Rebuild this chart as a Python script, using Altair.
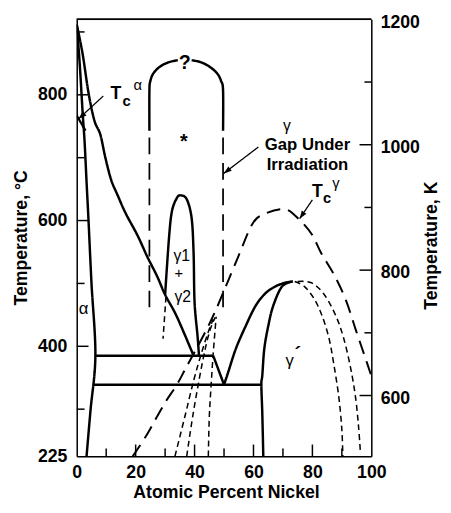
import math
import altair as alt
import pandas as pd

# ---------------- data: X = atomic % Ni, T = temperature (deg C) ----------------
alpha_x = [0, 1.0, 2.0, 2.67, 3.33, 4.0, 5.0, 6.33, 4.67, 3.33]
alpha_t = [912, 850, 772, 725, 662, 600, 501, 386, 298, 225]

gamma_x = [0, 2, 4, 6, 8, 9.67, 11.67, 14, 16.67, 20.67, 24, 27.33, 30, 34, 39.67]
gamma_t = [912, 865, 803, 759, 737, 701, 665, 639, 611, 576, 542, 511, 482, 447, 385]

tca_x = [0, 3]
tca_t = [767, 743]

dome_x = [30, 31.33, 32.33, 34, 35.33, 37.33, 39, 39.67, 40, 41, 41.5]
dome_t = [482, 573, 615, 636, 640, 634, 604, 548, 470, 417, 385]

dome_dash_x = [30.3, 29.3]
dome_dash_t = [479, 412]

upper_h_x = [6.33, 46.33]
upper_h_t = [385, 385]

v_arm_x = [46.33, 50]
v_arm_t = [385, 339]

lower_h_x = [5.6, 62.7]
lower_h_t = [339, 339]

gp_outer_x = [50, 51.33, 54, 57.33, 60.67, 64, 67.33, 70.67, 73.33]
gp_outer_t = [339, 357.5, 396, 432, 464, 484, 495, 501, 503]

gp_inner_x = [73.33, 69.67, 66.67, 65, 63.67, 63, 62.67, 63, 63.33]
gp_inner_t = [503, 495, 464, 432, 396, 354, 339, 292, 225]

gp_dash1_x = [74, 77.33, 80.67, 83.33, 85.67, 87.33, 89, 90, 90.33]
gp_dash1_t = [503, 495, 475, 448, 412, 370, 318, 267, 225]

gp_dash2_x = [75, 79.67, 84, 88, 90.67, 93, 94.67, 95.67, 96.33]
gp_dash2_t = [503, 501, 482.5, 448, 412, 365, 318, 272, 229]

tcg_x = [19, 24, 29.67, 34, 37.33, 43.33, 47.33, 54.33, 59.67, 64, 70.67, 75, 79.67, 83,
         87.33, 91.33, 94.67, 98, 100]
tcg_t = [225, 261, 308, 339, 368, 420, 459, 537, 595, 611, 618, 604, 579, 548,
         514, 474, 427, 381, 353]

gap_left_x = [24.67, 24.67, 25, 26, 28.33, 31.33, 34.33]
gap_left_t = [743, 807, 822, 834, 845, 852, 855]
gap_right_x = [39, 42, 45, 47.67, 49, 49.67, 49.67]
gap_right_t = [855, 852, 845, 834, 822, 807, 743]
gap_ldash_x = [24.67, 24.67]
gap_ldash_t = [732, 462]
gap_rdash_x = [49.67, 49.67]
gap_rdash_t = [732, 462]

low_a_x = [33.33, 36.67, 39.67, 42.33, 44.67, 46.33]
low_a_t = [225, 287.5, 345, 389, 423, 443]
low_b_x = [37.33, 39.33, 41.67, 43.67, 45.33, 47]
low_b_t = [225, 287.5, 350, 397, 427, 446]
low_c_x = [44.67, 45, 45.67, 46.33, 47, 47.33]
low_c_t = [225, 287.5, 342, 389, 428, 447]

# arrows: (tail x, tail T, tip x, tip T)
arrows = [
    (9.0, 798, 0.67, 762),
    (61.67, 717, 49.9, 675),
    (80.0, 633, 75.67, 603),
]

# labels
bold_labels = [
    ("T", 13.33, 801, 18), ("c", 16.9, 790, 15),
    ("?", 36.67, 850, 20),
    ("*", 36.33, 725, 20),
    ("Gap Under", 78.33, 720, 17), ("Irradiation", 78.33, 689, 17),
    ("T", 81.67, 645, 18), ("c", 85.0, 636, 15),
    ("´", 75.0, 386, 20),
]
plain_labels = [
    ("α", 20.67, 815, 15), ("γ", 88.0, 659, 15),
    ("γ", 71.33, 751, 16),
    ("γ1", 35.67, 543, 16), ("+", 34.67, 516, 15), ("γ2", 36.0, 479, 16),
    ("α", 2.33, 459, 17),
    ("γ", 72.3, 376, 17),
]

x_major = [20, 40, 60, 80]
x_minor = [10, 30, 50, 70, 90]
t_major = [400, 600, 800]
t_minor = [300, 500, 700, 900]
k_major = [600, 800, 1000]
k_minor = [700, 900, 1100]

# ---------------- build ----------------
W, H = 300, 445
X_DOM = [0, 100]
T_DOM = [225, 920]
K_DOM = [503, 1200]
FONT = "Liberation Sans"

segments = [
    ("alpha", "solid", alpha_x, alpha_t), ("gamma", "solid", gamma_x, gamma_t),
    ("tca", "thin", tca_x, tca_t), ("dome", "solid", dome_x, dome_t),
    ("domedash", "short", dome_dash_x, dome_dash_t),
    ("uh", "solid", upper_h_x, upper_h_t), ("varm", "solid", v_arm_x, v_arm_t),
    ("lh", "solid", lower_h_x, lower_h_t),
    ("gpo", "solid", gp_outer_x, gp_outer_t), ("gpi", "solid", gp_inner_x, gp_inner_t),
    ("gpd1", "short", gp_dash1_x, gp_dash1_t), ("gpd2", "short", gp_dash2_x, gp_dash2_t),
    ("tcg", "tc", tcg_x, tcg_t),
    ("gapl", "solid", gap_left_x, gap_left_t), ("gapr", "solid", gap_right_x, gap_right_t),
    ("gapld", "gap", gap_ldash_x, gap_ldash_t), ("gaprd", "gap", gap_rdash_x, gap_rdash_t),
    ("la", "short", low_a_x, low_a_t), ("lb", "short", low_b_x, low_b_t),
    ("lc", "short", low_c_x, low_c_t),
]
for k, (x0, t0, x1, t1) in enumerate(arrows):
    segments.append((f"arrow{k}", "arrow", [x0, x1], [t0, t1]))

rows = []
for name, style, xs_, ts_ in segments:
    for i, (x, t) in enumerate(zip(xs_, ts_)):
        rows.append(dict(seg=name, style=style, i=i, x=x, t=t))
df = pd.DataFrame(rows)

styles = ["solid", "thin", "tc", "gap", "short", "arrow"]
dash_range = [[1, 0], [1, 0], [14, 8], [17, 9], [6, 4], [1, 0]]
width_range = [2.5, 1.3, 3.2, 2.5, 2.2, 1.6]

xscale = alt.Scale(domain=X_DOM, nice=False, zero=False)
tscale = alt.Scale(domain=T_DOM, nice=False, zero=False)
kscale = alt.Scale(domain=K_DOM, nice=False, zero=False)

x_axis = alt.Axis(values=[0, 20, 40, 60, 80, 100], ticks=False, tickSize=0, grid=False,
                  labelFont=FONT, labelFontWeight="bold", labelFontSize=18, labelPadding=8,
                  labelFlush=False, labelColor="black", format="d",
                  title="Atomic Percent Nickel", titleFont=FONT, titleFontWeight="bold",
                  titleFontSize=18, titleColor="black", titleX=152, titleY=37,
                  titleAlign="center", titleBaseline="middle",
                  domainColor="black", domainWidth=1.5)
t_axis = alt.Axis(values=[225, 400, 600, 800], ticks=False, tickSize=0, grid=False,
                  labelFont=FONT, labelFontWeight="bold", labelFontSize=18, labelPadding=10,
                  labelFlush=False, labelColor="black", format="d",
                  title="Temperature, °C", titleFont=FONT, titleFontWeight="bold",
                  titleFontSize=18, titleColor="black", titleX=-56, titleY=222,
                  titleAngle=270, titleAlign="center", titleBaseline="middle",
                  domainColor="black", domainWidth=1.5)
k_axis = alt.Axis(orient="right", values=[600, 800, 1000, 1200], ticks=False, tickSize=0,
                  grid=False, labelFont=FONT, labelFontWeight="bold", labelFontSize=18,
                  labelPadding=9, labelFlush=False, labelOffset=3, labelColor="black",
                  format="d",
                  title="Temperature, K", titleFont=FONT, titleFontWeight="bold",
                  titleFontSize=18, titleColor="black", titleX=61, titleY=230,
                  titleAngle=270, titleAlign="center", titleBaseline="middle",
                  domainColor="black", domainWidth=1.5)


def X(field="x"):
    return alt.X(f"{field}:Q", scale=xscale, axis=x_axis)


def Y(field="t"):
    return alt.Y(f"{field}:Q", scale=tscale, axis=t_axis)


def K(field="k"):
    return alt.Y(f"{field}:Q", scale=kscale, axis=k_axis)


lines = alt.Chart(df).mark_line(interpolate="cardinal", color="black", clip=True).encode(
    x=X(),
    y=Y(),
    detail="seg:N",
    order="i:Q",
    strokeDash=alt.StrokeDash("style:N", scale=alt.Scale(domain=styles, range=dash_range),
                              legend=None),
    strokeWidth=alt.StrokeWidth("style:N", scale=alt.Scale(domain=styles, range=width_range),
                                legend=None),
)

# arrow heads
heads = []
for x0, t0, x1, t1 in arrows:
    dx = (x1 - x0) * W / (X_DOM[1] - X_DOM[0])
    dy = -(t1 - t0) * H / (T_DOM[1] - T_DOM[0])
    ang = math.degrees(math.atan2(dx, -dy)) % 360
    heads.append(dict(x=x1, t=t1, ang=ang))
head_df = pd.DataFrame(heads)
head_layer = alt.Chart(head_df).mark_point(
    shape="M0,0 L-0.6,1.7 L0.6,1.7 Z", filled=True, color="black", size=90, opacity=1
).encode(x=X(), y=Y(), angle=alt.Angle("ang:Q", scale=None))

bold_df = pd.DataFrame(bold_labels, columns=["txt", "x", "t", "fs"])
plain_df = pd.DataFrame(plain_labels, columns=["txt", "x", "t", "fs"])
bold_text = alt.Chart(bold_df).mark_text(font=FONT, fontWeight="bold", color="black",
                                         baseline="middle").encode(
    x=X(), y=Y(), text="txt:N", size=alt.Size("fs:Q", scale=None))
plain_text = alt.Chart(plain_df).mark_text(font=FONT, color="black",
                                           baseline="middle").encode(
    x=X(), y=Y(), text="txt:N", size=alt.Size("fs:Q", scale=None))

# inward ticks
xt_major = alt.Chart(pd.DataFrame({"x": x_major})).mark_rule(color="black", strokeWidth=1.5).encode(
    x=X(), y=alt.value(H), y2=alt.value(H - 12))
xt_minor = alt.Chart(pd.DataFrame({"x": x_minor})).mark_rule(color="black", strokeWidth=1.5).encode(
    x=X(), y=alt.value(H), y2=alt.value(H - 8))
tt_major = alt.Chart(pd.DataFrame({"t": t_major})).mark_rule(color="black", strokeWidth=1.5).encode(
    y=Y(), x=alt.value(0), x2=alt.value(12))
tt_minor = alt.Chart(pd.DataFrame({"t": t_minor})).mark_rule(color="black", strokeWidth=1.5).encode(
    y=Y(), x=alt.value(0), x2=alt.value(8))
top_frame = alt.Chart(pd.DataFrame({"x": [0, 100]})).mark_rule(color="black", strokeWidth=1.5).encode(
    x=alt.value(0), x2=alt.value(W), y=alt.value(0))

c_layer = alt.layer(lines, head_layer, bold_text, plain_text,
                    xt_major, xt_minor, tt_major, tt_minor, top_frame)

kt_major = alt.Chart(pd.DataFrame({"k": k_major})).mark_rule(color="black", strokeWidth=1.5).encode(
    y=K(), x=alt.value(W), x2=alt.value(W - 12))
kt_minor = alt.Chart(pd.DataFrame({"k": k_minor})).mark_rule(color="black", strokeWidth=1.5).encode(
    y=K(), x=alt.value(W), x2=alt.value(W - 7))
k_layer = alt.layer(kt_major, kt_minor)

chart = alt.layer(c_layer, k_layer).resolve_scale(y="independent").properties(
    width=W, height=H,
    autosize=alt.AutoSizeParams(type="none"),
    padding={"left": 70, "top": 7, "right": 73, "bottom": 45},
).configure_view(stroke="black", strokeWidth=1.5).configure(background="white")

chart.save("out.html", embed_options={"renderer": "svg", "actions": False})
